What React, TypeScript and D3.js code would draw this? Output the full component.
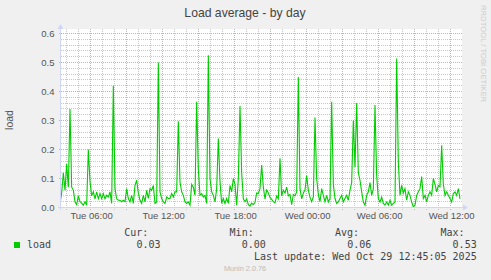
import React from "react";
import * as d3 from "d3";

const TITLE = "Load average - by day";
const Y_LABEL = "load";
const Y_TICKS = [0, 0.1, 0.2, 0.3, 0.4, 0.5, 0.6];
const X_TICK_TIMES = [
  "2025-10-28 06:00",
  "2025-10-28 12:00",
  "2025-10-28 18:00",
  "2025-10-29 00:00",
  "2025-10-29 06:00",
  "2025-10-29 12:00",
];
const X_TICK_LABELS = ["Tue 06:00", "Tue 12:00", "Tue 18:00", "Wed 00:00", "Wed 06:00", "Wed 12:00"];
const DOMAIN_START = "2025-10-28 03:32";
const DOMAIN_END = "2025-10-29 12:57";
const SERIES_START = "2025-10-28 03:27";
const SERIES_STEP_SECONDS = 500;

const LOAD_VALUES = [
  // Tue early morning
  0.014, 0.05, 0.12, 0.06, 0.15, 0.07, 0.34, 0.07, 0.06, 0.02, 0.01, 0.04, 0.02, 0.015, 0.008, 0.02, 0.008, 0.2,
  0.09, 0.04, 0.054, 0.03, 0.054, 0.03, 0.048, 0.03, 0.048, 0.03, 0.042, 0.036, 0.054, 0.014, 0.42, 0.065, 0.03,
  // Tue late morning
  0.025, 0.025, 0.02, 0.025, 0.02, 0.065, 0.031, 0.019, 0.042, 0.014, 0.076, 0.094, 0.05, 0.025, 0.014, 0.042,
  0.019, 0.059, 0.031, 0.065, 0.059, 0.076, 0.014, 0.019, 0.5, 0.054, 0.031, 0.019, 0.014, 0.036, 0.031, 0.031,
  0.048, 0.036, 0.054,
  // Tue afternoon
  0.054, 0.297, 0.088, 0.054, 0.042, 0.019, 0.014, 0.019, 0.008, 0.08, 0.07, 0.042, 0.365, 0.134, 0.042, 0.048,
  0.036, 0.042, 0.014, 0.525, 0.1, 0.054, 0.042, 0.019, 0.065, 0.238, 0.09, 0.014, 0.031, 0.014, 0.031, 0.014,
  0.076, 0.054, 0.1,
  // Tue evening
  0.08, 0.008, 0.1, 0.35, 0.12, 0.03, 0.02, 0.03, 0.01, 0.005, 0.015, 0.01, 0.018, 0.05, 0.048, 0.065, 0.146, 0.07,
  0.03, 0.06, 0.05, 0.035, 0.028, 0.02, 0.016, 0.04, 0.03, 0.17, 0.04, 0.06, 0.05, 0.07, 0.04, 0.045, 0.01,
  // Wed night
  0.045, 0.04, 0.054, 0.45, 0.065, 0.03, 0.05, 0.06, 0.11, 0.06, 0.035, 0.02, 0.036, 0.31, 0.1, 0.045, 0.02, 0.065,
  0.042, 0.02, 0.042, 0.019, 0.031, 0.365, 0.08, 0.031, 0.014, 0.019, 0.031, 0.042, 0.019, 0.031, 0.042, 0.025,
  0.06,
  // Wed early morning
  0.085, 0.3, 0.14, 0.36, 0.12, 0.094, 0.054, 0.019, 0.008, 0.042, 0.054, 0.086, 0.042, 0.065, 0.353, 0.11, 0.031,
  0.019, 0.036, 0.014, 0.008, 0.019, 0.008, 0.025, 0.008, 0.014, 0.019, 0.514, 0.157, 0.042, 0.076, 0.05, 0.065,
  0.025, 0.054,
  // Wed morning
  0.042, 0.019, 0.002, 0.008, 0.042, 0.054, 0.065, 0.107, 0.031, 0.042, 0.019, 0.042, 0.054, 0.042, 0.1, 0.08,
  0.054, 0.076, 0.071, 0.215, 0.08, 0.042, 0.054, 0.042, 0.031, 0.019, 0.048, 0.054, 0.042, 0.065, 0.03,
];

const LEGEND_NAME = "load";
const STAT_LABELS = ["Cur:", "Min:", "Avg:", "Max:"];
const STAT_VALUES = ["0.03", "0.00", "0.06", "0.53"];
const LAST_UPDATE = "Last update: Wed Oct 29 12:45:05 2025";
const WATERMARK = "Munin 2.0.76";
const SIDE_TEXT = "RRDTOOL / TOBI OETIKER";

const W = 491;
const H = 280;
const PLOT_L = 61;
const PLOT_R = 462;
const PLOT_T = 29;
const PLOT_B = 207.5;
const SANS = "'Liberation Sans', Arial, sans-serif";
const MONO = "'DejaVu Sans Mono', monospace";
const FONT_COLOR = "#555";
const AXIS_COLOR = "#CFD6F8";
const LINE_COLOR = "#00CC00";

export default function App() {
  const parse = d3.timeParse("%Y-%m-%d %H:%M");
  const x = d3
    .scaleTime()
    .domain([parse(DOMAIN_START)!, parse(DOMAIN_END)!])
    .range([PLOT_L, PLOT_R]);
  const y = d3.scaleLinear().domain([0, 0.6]).range([207.5, 33.5]);

  const seriesStart = parse(SERIES_START)!;
  const points: [Date, number][] = LOAD_VALUES.map((v, i) => [
    new Date(seriesStart.getTime() + i * SERIES_STEP_SECONDS * 1000),
    v,
  ]);
  const line = d3
    .line<[Date, number]>()
    .x((d) => x(d[0]))
    .y((d) => y(d[1]));

  const hours = d3.timeHour.range(x.domain()[0], x.domain()[1]);
  const minorX = hours.filter((h) => h.getHours() % 3 !== 0);
  const majorX = hours.filter((h) => h.getHours() % 3 === 0);
  const minorY = d3.range(1, 30).map((i) => i * 0.02).filter((v) => Math.round(v * 50) % 5 !== 0);
  const majorY = Y_TICKS;
  const px = (v: number) => Math.floor(v) + 0.5;

  return (
    <svg
      width={W}
      height={H}
      style={{ position: "absolute", left: 0, top: 0, display: "block" }}
      xmlns="http://www.w3.org/2000/svg"
    >
      <defs>
        <clipPath id="plotclip">
          <rect x={PLOT_L} y={PLOT_T} width={PLOT_R - PLOT_L} height={PLOT_B - PLOT_T + 0.5} />
        </clipPath>
      </defs>
      <rect x={0} y={0} width={W} height={H} fill="#F0F0F0" />
      <rect x={PLOT_L} y={PLOT_T} width={PLOT_R - PLOT_L} height={PLOT_B - PLOT_T} fill="#FFFFFF" />

      {/* minor grid */}
      <g stroke="#C8C8C8" strokeWidth={1} strokeDasharray="1,1" shapeRendering="crispEdges">
        {minorY.map((v) => (
          <line key={"my" + v} x1={PLOT_L} x2={PLOT_R} y1={px(y(v))} y2={px(y(v))} />
        ))}
        {minorX.map((h) => (
          <line key={"mx" + h.getTime()} x1={px(x(h))} x2={px(x(h))} y1={PLOT_T} y2={PLOT_B + 2} />
        ))}
      </g>
      {/* major grid */}
      <g stroke="#F0A0A0" strokeWidth={1} strokeDasharray="1,1" shapeRendering="crispEdges">
        {majorY.map((v) => (
          <line key={"My" + v} x1={PLOT_L - 2} x2={PLOT_R} y1={px(y(v))} y2={px(y(v))} />
        ))}
        {majorX.map((h) => (
          <line key={"Mx" + h.getTime()} x1={px(x(h))} x2={px(x(h))} y1={PLOT_T} y2={PLOT_B + 3} />
        ))}
      </g>

      {/* data line */}
      <path
        d={line(points) || ""}
        fill="none"
        stroke={LINE_COLOR}
        strokeWidth={1.1}
        clipPath="url(#plotclip)"
      />

      {/* axes */}
      <g shapeRendering="crispEdges" stroke={AXIS_COLOR} strokeWidth={1}>
        <line x1={60.5} x2={60.5} y1={PLOT_B + 2} y2={PLOT_T - 1} />
        <line x1={58} x2={PLOT_R + 2} y1={PLOT_B} y2={PLOT_B} />
      </g>
      <path d={`M57.5,${PLOT_T} L63.5,${PLOT_T} L60.5,${PLOT_T - 5} Z`} fill={AXIS_COLOR} />
      <path d={`M${PLOT_R + 1},${PLOT_B - 3} L${PLOT_R + 1},${PLOT_B + 3} L${PLOT_R + 6},${PLOT_B} Z`} fill={AXIS_COLOR} />

      {/* y tick labels */}
      <g fontFamily={SANS} fontSize={9.5} fill={FONT_COLOR} textAnchor="end">
        {Y_TICKS.map((v) => (
          <text key={"yl" + v} x={54.5} y={y(v) + 3.4}>
            {d3.format(".1f")(v)}
          </text>
        ))}
      </g>
      {/* x tick labels */}
      <g fontFamily={SANS} fontSize={9.5} fill={FONT_COLOR} textAnchor="middle">
        {X_TICK_TIMES.map((t, i) => (
          <text key={"xl" + i} x={x(parse(t)!) + 1} y={218.5}>
            {X_TICK_LABELS[i]}
          </text>
        ))}
      </g>

      {/* title & labels */}
      <text x={245} y={16.5} fontFamily={SANS} fontSize={12.2} fill="#444" textAnchor="middle">
        {TITLE}
      </text>
      <text
        transform={`translate(12.5,120) rotate(-90)`}
        fontFamily={SANS}
        fontSize={10.5}
        fill={FONT_COLOR}
        textAnchor="middle"
      >
        {Y_LABEL}
      </text>
      <text
        transform={`translate(480.5,5) rotate(90)`}
        fontFamily={SANS}
        fontSize={7.7}
        fill="#CCCCCC"
        textAnchor="start"
      >
        {SIDE_TEXT}
      </text>

      {/* legend */}
      <rect x={14} y={242} width={6} height={6} fill={LINE_COLOR} />
      <g fontFamily={MONO} fontSize={10} fill="#444">
        <text x={27} y={247.5}>
          {LEGEND_NAME}
        </text>
        {STAT_LABELS.map((s, i) => (
          <text key={"sl" + i} x={148.3 + i * 105.4} y={236} textAnchor="end">
            {s}
          </text>
        ))}
        {STAT_VALUES.map((s, i) => (
          <text key={"sv" + i} x={160.5 + i * 105.4} y={247.5} textAnchor="end">
            {s}
          </text>
        ))}
        <text x={476.7} y={259.5} textAnchor="end">
          {LAST_UPDATE}
        </text>
      </g>
      <text x={245} y={271} fontFamily={SANS} fontSize={7.3} fill="#BBBBBB" textAnchor="middle">
        {WATERMARK}
      </text>
    </svg>
  );
}
